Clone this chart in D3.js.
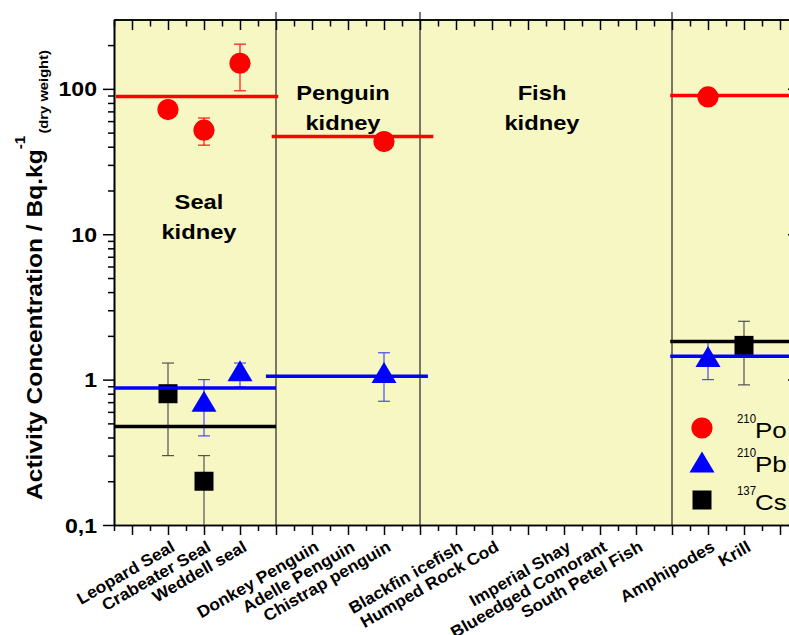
<!DOCTYPE html>
<html><head><meta charset="utf-8">
<script src="https://cdn.jsdelivr.net/npm/d3@7"></script>
<style>body{margin:0;background:#fff}svg{display:block}text{font-family:"Liberation Sans",Arial,sans-serif}</style>
</head><body>
<svg id="c" width="789" height="635"></svg>
<script>
// ---------- data ----------
const categories = ["Leopard Seal","Crabeater Seal","Weddell seal","Donkey Penguin","Adelle Penguin","Chistrap penguin","Blackfin icefish","Humped Rock Cod","Imperial Shay","Blueedged Comorant","South Petel Fish","Amphipodes","Krill"];
const categoryPos = [1,2,3,5,6,7,9,10,12,13,14,16,17];
const groupNames = [["Seal","kidney"],["Penguin","kidney"],["Fish","kidney"]];
const groupDividers = [4,8,15];

const poCats = ["Leopard Seal","Crabeater Seal","Weddell seal","Chistrap penguin","Amphipodes"];
const poVals = [72, 52, 150, 43.4, 88];
const poErrLow  = [0, 11, 53, 0, 0];
const poErrHigh = [0, 11, 53, 0, 0];

const pbCats = ["Crabeater Seal","Weddell seal","Chistrap penguin","Amphipodes"];
const pbVals = [0.71, 1.15, 1.12, 1.44];
const pbErrLow  = [0.3, 0.26, 0.41, 0.44];
const pbErrHigh = [0.29, 0.15, 0.41, 0.38];

const csCats = ["Leopard Seal","Crabeater Seal","Krill"];
const csVals = [0.8, 0.2, 1.72];
const csErrLow  = [0.5, 0.1, 0.8];
const csErrHigh = [0.5, 0.1, 0.8];

// group mean lines: value, from, to (x units)
const poMean = [[88.5,-0.45,4.06],[47,3.88,8.37],[90,14.95,18.5]];
const pbMean = [[0.877,-0.5,4.0],[1.054,3.72,8.22],[1.446,14.95,18.5]];
const csMean = [[0.475,-0.5,4.0],[1.826,14.95,18.5]];

const yMajor = [0.1,1,10,100];
const yLabels = ["0,1","1","10","100"];
const yMinor = [0.2,0.3,0.4,0.5,0.6,0.7,0.8,0.9,2,3,4,5,6,7,8,9,20,30,40,50,60,70,80,90,200];
const legendItems = [["210","Po"],["210","Pb"],["137","Cs"]];

// ---------- layout ----------
const L=114, R=798, T=19.5, B=525;
const svg=d3.select("#c");
const x=d3.scaleLinear().domain([-0.5,18.5]).range([L,R]);
const y=d3.scaleLog().domain([0.1,300]).range([B,T]);
const posOf = c => categoryPos[categories.indexOf(c)];

svg.append("rect").attr("x",L).attr("y",T).attr("width",R-L).attr("height",B-T).attr("fill","#F7F7C4");

// dividers
svg.selectAll(".div").data(groupDividers).join("line")
  .attr("x1",d=>x(d)).attr("x2",d=>x(d)).attr("y1",12).attr("y2",B)
  .attr("stroke","#222").attr("stroke-width",1.2);

// axes
function styleAxis(g){g.selectAll("path").attr("stroke","#000").attr("stroke-width",1.6);
  g.selectAll("line").attr("stroke","#000").attr("stroke-width",1.5);}
const xInt=d3.range(0,19), xHalf=d3.range(-0.5,19,1);
svg.append("g").attr("transform",`translate(0,${B})`).call(d3.axisBottom(x).tickValues(xInt).tickSize(10).tickSizeOuter(0).tickFormat("")).call(styleAxis);
svg.append("g").attr("transform",`translate(0,${B})`).call(d3.axisBottom(x).tickValues(xHalf).tickSize(6).tickSizeOuter(0).tickFormat("")).call(styleAxis);
svg.append("g").attr("transform",`translate(0,${T})`).call(d3.axisTop(x).tickValues(xInt).tickSize(-10.5).tickSizeOuter(0).tickFormat("")).call(styleAxis);
svg.append("g").attr("transform",`translate(0,${T})`).call(d3.axisTop(x).tickValues(xHalf).tickSize(-7).tickSizeOuter(0).tickFormat("")).call(styleAxis);
svg.append("g").attr("transform",`translate(${L},0)`).call(d3.axisLeft(y).tickValues(yMajor).tickSize(11).tickSizeOuter(0).tickFormat("")).call(styleAxis);
svg.append("g").attr("transform",`translate(${L},0)`).call(d3.axisLeft(y).tickValues(yMinor).tickSize(6).tickSizeOuter(0).tickFormat("")).call(styleAxis);
svg.append("g").attr("transform",`translate(${R},0)`).call(d3.axisRight(y).tickValues(yMajor).tickSize(-10).tickSizeOuter(0).tickFormat("")).call(styleAxis);
svg.append("g").attr("transform",`translate(${R},0)`).call(d3.axisRight(y).tickValues(yMinor).tickSize(-6).tickSizeOuter(0).tickFormat("")).call(styleAxis);

// y tick labels
svg.selectAll(".yl").data(yMajor).join("text")
  .attr("transform",d=>`translate(97,${y(d)+7.5}) scale(1.1,1)`)
  .attr("text-anchor","end").attr("font-weight","bold").attr("font-size",21)
  .text((d,i)=>yLabels[i]);

// x category labels
svg.selectAll(".xl").data(categories).join("text")
  .attr("transform",(d,i)=>`translate(${x(categoryPos[i])+8},550) rotate(-30) scale(1.06,1)`)
  .attr("text-anchor","end").attr("font-weight","bold").attr("font-size",16.5)
  .text(d=>d);

// y title
const yt=svg.append("text").attr("transform","translate(41.5,500) rotate(-90) scale(1.092,1)")
  .attr("font-weight","bold").attr("font-size",22.5);
yt.append("tspan").text("Activity Concentration / Bq.kg");
yt.append("tspan").attr("font-size",14).attr("dy",-17).text("-1");
yt.append("tspan").attr("font-size",13.5).attr("dy",23.5).attr("dx",2).text("(dry weight)");

// group labels
const groupCenters=[199,343,542];
groupNames.forEach((lines,i)=>{
  lines.forEach((t,j)=>{
    svg.append("text").attr("transform",`translate(${groupCenters[i]},${(i===0?209:100)+j*29.5}) scale(1.13,1)`)
      .attr("text-anchor","middle").attr("font-weight","bold").attr("font-size",21).text(t);
  });
});

// error bars
function errBars(cats,vals,lo,hi,color){
  cats.forEach((c,i)=>{
    if(!lo[i]&&!hi[i])return;
    const cx=x(posOf(c)), y1=y(Math.max(vals[i]-lo[i],0.0999)), y2=y(vals[i]+hi[i]);
    const g=svg.append("g").attr("stroke",color).attr("stroke-width",1.1);
    g.append("line").attr("x1",cx).attr("x2",cx).attr("y1",y1).attr("y2",y2);
    if(vals[i]-lo[i]>0.1) g.append("line").attr("x1",cx-6).attr("x2",cx+6).attr("y1",y1).attr("y2",y1);
    g.append("line").attr("x1",cx-6).attr("x2",cx+6).attr("y1",y2).attr("y2",y2);
  });
}
errBars(poCats,poVals,poErrLow,poErrHigh,"#f00");
errBars(pbCats,pbVals,pbErrLow,pbErrHigh,"#3a3aff");
errBars(csCats,csVals,csErrLow,csErrHigh,"#444");

// markers
function circle(cx,cy){svg.append("circle").attr("cx",cx).attr("cy",cy).attr("r",10.6).attr("fill","#f00");}
function tri(cx,cy){svg.append("path").attr("d",`M${cx},${cy-10.5}L${cx+12.5},${cy+10.5}L${cx-12.5},${cy+10.5}Z`).attr("fill","#00f");}
function sq(cx,cy){svg.append("rect").attr("x",cx-9.5).attr("y",cy-9.5).attr("width",19).attr("height",19).attr("fill","#000");}
poCats.forEach((c,i)=>circle(x(posOf(c)),y(poVals[i])));
pbCats.forEach((c,i)=>tri(x(posOf(c)),y(pbVals[i])));
csCats.forEach((c,i)=>sq(x(posOf(c)),y(csVals[i])));

// mean lines
function means(arr,color){
  svg.selectAll(null).data(arr).join("line")
    .attr("x1",d=>x(d[1])).attr("x2",d=>x(d[2])).attr("y1",d=>y(d[0])).attr("y2",d=>y(d[0]))
    .attr("stroke",color).attr("stroke-width",3.5);
}
means(poMean,"#f00"); means(pbMean,"#00f"); means(csMean,"#000");

// legend
const legY=[428,462,500];
circle(702,legY[0]); tri(702,legY[1]); sq(702,legY[2]);
legendItems.forEach((it,i)=>{
  const base=legY[i]+9.5;
  svg.append("text").attr("transform",`translate(737,${base-15}) scale(0.88,1)`).attr("font-size",13).text(it[0]);
  svg.append("text").attr("transform",`translate(755,${base}) scale(1.18,1)`).attr("font-size",22).text(it[1]);
});
</script>
</body></html>
